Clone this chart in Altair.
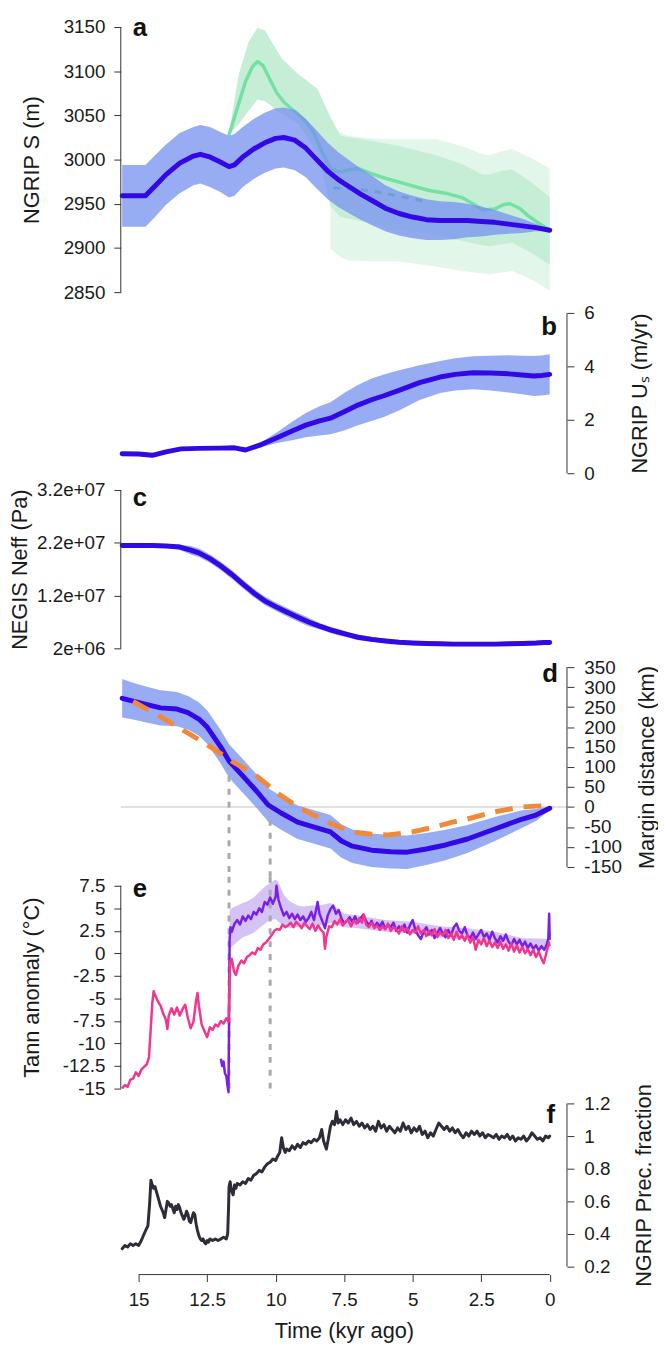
import altair as alt
import pandas as pd

FONT = "Liberation Sans"
TXT = "#1a1a1a"
AXC = "#333333"
W = 451
XDOM = [15.65, -0.63]

# ---------------- data (kyr ago, value) ----------------
# panel a : NGRIP surface elevation
A_T    = [15.6, 15.2, 14.75, 14.4, 14.0, 13.5, 13.0, 12.75, 12.4, 12.0, 11.7, 11.5, 11.2, 10.8, 10.4, 10.0, 9.7, 9.3, 8.9, 8.5, 8.1, 7.7, 7.3, 6.9, 6.5, 6.0, 5.5, 5.0, 4.5, 4.0, 3.5, 3.0, 2.5, 2.0, 1.5, 1.0, 0.5, 0.0]
A_MEAN = [2959, 2959, 2959, 2970, 2983, 2996, 3004, 3006, 3003, 2997, 2992, 2994, 3003, 3012, 3019, 3024, 3025, 3022, 3013, 3000, 2987, 2977, 2969, 2961, 2954, 2945, 2939, 2935, 2932, 2931, 2931, 2931, 2930, 2929, 2927, 2925, 2923, 2920]
A_LO   = [2924, 2924, 2924, 2935, 2949, 2962, 2971, 2973, 2969, 2963, 2957, 2959, 2969, 2978, 2985, 2990, 2991, 2988, 2980, 2967, 2955, 2946, 2939, 2932, 2926, 2919, 2914, 2911, 2909, 2909, 2910, 2912, 2913, 2915, 2916, 2917, 2919, 2919]
A_HI   = [2994, 2994, 2994, 3005, 3017, 3030, 3037, 3039, 3037, 3031, 3027, 3029, 3037, 3046, 3053, 3058, 3059, 3056, 3046, 3033, 3019, 3008, 2999, 2990, 2982, 2971, 2964, 2959, 2955, 2953, 2952, 2950, 2947, 2943, 2938, 2933, 2927, 2921]
G_T    = [11.7, 11.4, 11.1, 10.85, 10.66, 10.45, 10.2, 9.95, 9.67, 9.4, 9.2, 8.9, 8.6, 8.3, 8.0, 7.7, 7.4, 7.0, 6.5, 5.9, 5.2, 4.4, 3.8, 3.2, 2.8, 2.44, 2.0, 1.7, 1.45, 1.1, 0.77, 0.4, 0.0]
G_VAL  = [3028, 3058, 3088, 3105, 3111, 3106, 3090, 3075, 3064, 3057, 3052, 3043, 3030, 3008, 2990, 2986, 2988, 2990, 2984, 2978, 2972, 2965, 2962, 2957, 2950, 2943, 2944, 2949, 2950, 2945, 2936, 2928, 2920]
GM_T   = [11.71, 11.35, 10.99, 10.66, 10.39, 9.79, 9.19, 8.47, 8.0, 7.63, 6.5, 5.58, 4.14, 3.2, 2.45, 2.21, 1.8, 1.37, 0.7, 0.0]
GM_HI  = [3028, 3096, 3133, 3149, 3146, 3115, 3097, 3080, 3048, 3027, 3021, 3016, 3005, 2995, 2983, 2983, 2987, 2989, 2975, 2958]
GM_LO  = [3028, 3040, 3055, 3068, 3066, 3052, 3041, 3008, 2947, 2935, 2928, 2921, 2914, 2908, 2903, 2902, 2904, 2906, 2895, 2881]
GO_T   = [8.0, 7.63, 7.39, 6.5, 5.58, 4.8, 4.14, 3.2, 2.45, 2.21, 1.8, 1.37, 0.7, 0.0]
GO_HI  = [3034, 3030, 3027, 3024, 3023, 3023, 3023, 3015, 3006, 3005, 3009, 3012, 3002, 2990]
GO_LO  = [2899, 2890, 2886, 2885, 2885, 2882, 2879, 2874, 2871, 2870, 2872, 2874, 2865, 2852]
GD_T   = [7.9, 7.4, 6.9, 6.4, 5.9, 5.4, 4.9, 4.5]
GD_VAL = [2968, 2967, 2966, 2964, 2961, 2958, 2955, 2952]

# panel b : NGRIP surface velocity
B_T    = [15.6, 15.0, 14.5, 14.0, 13.45, 12.8, 12.0, 11.5, 11.1, 10.5, 9.95, 9.4, 8.9, 8.4, 8.0, 7.5, 7.0, 6.5, 6.05, 5.5, 4.75, 4.0, 3.45, 2.8, 2.15, 1.5, 1.0, 0.58, 0.3, 0.0]
B_MEAN = [0.73, 0.72, 0.67, 0.80, 0.91, 0.93, 0.94, 0.95, 0.87, 1.08, 1.33, 1.58, 1.80, 1.96, 2.06, 2.30, 2.55, 2.75, 2.90, 3.10, 3.39, 3.60, 3.70, 3.76, 3.75, 3.72, 3.68, 3.64, 3.66, 3.70]
B_LO   = [0.68, 0.67, 0.62, 0.75, 0.86, 0.88, 0.89, 0.90, 0.82, 0.98, 1.13, 1.23, 1.35, 1.41, 1.46, 1.60, 1.80, 1.95, 2.10, 2.35, 2.74, 3.00, 3.10, 3.14, 3.10, 3.02, 2.96, 2.89, 2.91, 2.95]
B_HI   = [0.78, 0.77, 0.72, 0.85, 0.96, 0.98, 0.99, 1.00, 0.92, 1.18, 1.53, 1.93, 2.25, 2.51, 2.66, 3.00, 3.30, 3.55, 3.70, 3.85, 4.04, 4.20, 4.30, 4.38, 4.40, 4.42, 4.40, 4.39, 4.41, 4.45]

# panel c : NEGIS effective pressure (Pa)
C_T    = [15.6, 15.0, 14.5, 14.0, 13.5, 13.1, 12.8, 12.4, 12.0, 11.6, 11.2, 10.8, 10.4, 10.0, 9.6, 9.19, 8.8, 8.4, 8.0, 7.74, 7.3, 7.0, 6.5, 6.0, 5.5, 5.0, 4.5, 4.0, 3.5, 3.0, 2.5, 2.0, 1.5, 1.0, 0.5, 0.2, 0.0]
C_MEAN = [2.15e7, 2.15e7, 2.15e7, 2.14e7, 2.12e7, 2.06e7, 2.01e7, 1.90e7, 1.76e7, 1.60e7, 1.42e7, 1.25e7, 1.10e7, 9.9e6, 8.9e6, 7.9e6, 7.0e6, 6.2e6, 5.5e6, 5.1e6, 4.5e6, 4.1e6, 3.7e6, 3.4e6, 3.15e6, 3.0e6, 2.9e6, 2.85e6, 2.8e6, 2.8e6, 2.8e6, 2.8e6, 2.85e6, 2.9e6, 3.0e6, 3.1e6, 3.1e6]
C_LO   = [2.115e7, 2.115e7, 2.115e7, 2.105e7, 2.07e7, 1.98e7, 1.93e7, 1.82e7, 1.68e7, 1.52e7, 1.34e7, 1.17e7, 1.02e7, 9.1e6, 8.1e6, 7.1e6, 6.2e6, 5.6e6, 4.9e6, 4.5e6, 4.0e6, 3.6e6, 3.2e6, 3.0e6, 2.75e6, 2.6e6, 2.5e6, 2.45e6, 2.4e6, 2.4e6, 2.4e6, 2.4e6, 2.45e6, 2.5e6, 2.6e6, 2.7e6, 2.7e6]
C_HI   = [2.185e7, 2.185e7, 2.185e7, 2.175e7, 2.17e7, 2.14e7, 2.09e7, 1.98e7, 1.84e7, 1.68e7, 1.50e7, 1.33e7, 1.18e7, 1.07e7, 9.7e6, 8.7e6, 7.8e6, 6.8e6, 6.1e6, 5.7e6, 5.0e6, 4.6e6, 4.2e6, 3.8e6, 3.55e6, 3.4e6, 3.3e6, 3.25e6, 3.2e6, 3.2e6, 3.2e6, 3.2e6, 3.25e6, 3.3e6, 3.4e6, 3.5e6, 3.5e6]

# panel d : margin distance (km)
D_T    = [15.6, 15.2, 14.8, 14.2, 13.6, 13.2, 12.8, 12.5, 12.0, 11.7, 11.2, 10.7, 10.27, 9.8, 9.2, 8.5, 8.0, 7.6, 7.2, 6.5, 5.8, 5.2, 4.5, 3.8, 3.0, 2.0, 1.0, 0.5, 0.0]
D_MEAN = [272, 265, 258, 248, 245, 236, 220, 200, 150, 115, 78, 40, 5, -15, -38, -52, -62, -85, -98, -108, -112, -113, -105, -95, -80, -55, -30, -20, -3]
D_LO   = [224, 219, 213, 204, 202, 194, 178, 158, 108, 73, 36, -2, -37, -57, -80, -94, -104, -127, -140, -150, -154, -155, -145, -133, -115, -85, -52, -35, -8]
D_HI   = [320, 311, 303, 292, 288, 278, 262, 242, 192, 157, 120, 82, 47, 27, 4, -10, -20, -43, -56, -66, -70, -71, -65, -57, -45, -25, -8, -5, 2]
OR_T   = [15.2, 14.1, 13.3, 12.5, 11.6, 10.7, 9.9, 9.1, 8.0, 7.24, 6.5, 5.9, 5.0, 4.2, 3.55, 3.0, 2.0, 1.05, 0.0]
OR_VAL = [264, 222, 189, 156, 115, 78, 33, -4, -41, -62, -68, -70, -62, -50, -38, -30, -12, 0, 4]

# vertical dashed markers (kyr) and their starting value in panel d
VL_T = [11.7, 10.2]
VL_D = [110, 0]

# panel e : annual temperature anomaly
TANN_PINK = [(15.6,-15.0),(15.5,-14.6),(15.4,-14.8),(15.3,-14.0),(15.2,-13.9),(15.1,-13.2),(15.0,-13.6),(14.9,-12.9),(14.8,-12.6),(14.7,-12.3),
        (14.62,-11.5),(14.55,-8.0),(14.5,-5.5),(14.45,-4.2),(14.4,-4.6),(14.3,-5.3),(14.2,-5.8),(14.1,-6.7),(14.0,-7.4),(13.95,-8.4),(13.9,-6.9),
        (13.8,-6.1),(13.7,-6.8),(13.6,-6.0),(13.5,-6.9),(13.4,-6.2),(13.3,-5.7),(13.2,-7.2),(13.1,-8.3),(13.0,-7.6),
        (12.9,-5.2),(12.85,-4.4),(12.8,-5.8),(12.7,-7.9),(12.6,-8.6),(12.5,-9.3),(12.4,-8.2),(12.3,-8.5),(12.2,-7.9),(12.1,-8.1),(12.0,-7.5),(11.9,-7.8),(11.8,-7.2),(11.72,-7.6),
        (11.66,-1.0),(11.6,-0.6),(11.52,-2.0),(11.45,-2.4),(11.35,-1.3),(11.25,-0.8),(11.15,-1.1),(11.05,-0.4),(10.95,-0.2),(10.85,0.1),(10.75,-0.1),(10.65,0.6),(10.55,0.4),(10.45,1.0),(10.35,1.2),(10.25,1.6),(10.15,2.0),(10.05,2.5),
        (9.95,2.7),(9.85,2.6),(9.75,3.2),(9.65,2.9),(9.55,3.1),(9.45,3.4),(9.35,2.9),(9.25,3.5),(9.15,3.2),(9.05,2.8),(8.95,3.4),(8.85,3.0),(8.75,2.7),(8.65,3.3),(8.55,2.5),(8.45,3.1),(8.35,2.6),(8.25,2.3),
        (8.2,0.5),(8.15,1.8),(8.05,3.0),
        (7.95,2.9),(7.85,3.6),(7.75,3.2),(7.65,3.8),(7.55,3.1),(7.45,3.5),(7.35,3.7),(7.25,3.0),(7.15,3.6),(7.05,3.3),(6.95,3.9),(6.85,3.4),(6.78,4.3),(6.7,3.2),
        (6.6,2.9),(6.5,3.4),(6.4,2.8),(6.3,3.1),(6.2,2.6),(6.1,3.0),(6.0,2.7),(5.9,3.3),(5.8,2.5),(5.7,2.9),(5.6,2.7),(5.5,2.2),(5.4,3.0),(5.3,2.4),(5.2,2.8),(5.1,2.1),
        (5.0,2.6),(4.9,2.3),(4.8,3.0),(4.7,2.2),(4.6,2.6),(4.5,1.9),(4.4,2.5),(4.3,2.0),(4.2,2.7),(4.1,1.8),(4.0,2.3),(3.9,2.0),(3.8,2.6),(3.7,1.7),(3.6,2.2),(3.5,1.5),
        (3.4,2.4),(3.3,1.6),(3.2,2.0),(3.1,1.4),(3.0,2.1),(2.9,1.2),(2.8,1.8),(2.7,0.4),(2.6,1.5),(2.5,1.0),(2.4,1.7),(2.3,0.8),(2.2,1.4),(2.1,0.7),(2.0,1.2),(1.9,0.6),
        (1.8,1.3),(1.7,0.5),(1.6,1.0),(1.5,0.3),(1.4,1.1),(1.3,0.2),(1.2,0.9),(1.1,0.1),(1.0,0.7),(0.9,0.0),(0.8,0.5),(0.7,-0.2),(0.6,0.4),(0.5,-0.4),(0.4,0.2),(0.3,-0.6),
        (0.22,-1.1),(0.15,-0.3),(0.08,0.6),(0.03,1.2),(0.0,0.8)]
TANN_PURPLE = [(12.0,-11.7),(11.95,-12.5),(11.9,-12.0),(11.85,-13.3),(11.8,-13.6),(11.76,-14.6),(11.72,-15.4),(11.7,-8.0),(11.68,1.5),(11.65,2.9),
          (11.6,2.4),(11.5,3.3),(11.4,3.7),(11.3,3.2),(11.2,4.1),(11.1,3.6),(11.0,4.2),(10.9,3.8),(10.8,4.6),(10.7,4.3),(10.6,5.0),(10.5,4.6),
          (10.4,5.7),(10.3,5.4),(10.2,6.2),(10.1,5.5),(10.0,6.3),(9.97,7.5),(9.9,6.0),(9.8,5.0),(9.7,4.2),(9.6,4.6),(9.5,3.9),(9.4,4.4),(9.3,3.8),
          (9.2,4.3),(9.1,3.7),(9.0,4.1),(8.9,3.5),(8.8,3.9),(8.7,4.6),(8.6,3.7),(8.5,5.2),(8.47,5.7),(8.4,4.4),(8.3,3.6),(8.2,2.8),(8.1,4.2),
          (8.0,4.9),(7.9,5.3),(7.8,4.4),(7.7,4.8),(7.6,3.9),(7.5,3.3),(7.4,3.6),(7.3,4.0),(7.2,3.5),(7.1,4.1),(7.0,3.4),(6.9,3.9),(6.8,4.3),
          (6.7,3.6),(6.6,3.1),(6.5,3.6),(6.4,2.9),(6.3,3.4),(6.2,3.0),(6.1,3.5),(6.0,2.7),(5.9,3.2),(5.8,2.9),(5.7,3.4),(5.6,2.5),(5.5,3.0),
          (5.4,2.6),(5.3,3.2),(5.2,2.3),(5.1,3.1),(5.0,3.7),(4.9,2.6),(4.8,2.0),(4.7,1.6),(4.6,2.4),(4.5,2.9),(4.4,2.1),(4.3,2.6),(4.2,1.7),
          (4.1,2.3),(4.0,2.8),(3.9,2.2),(3.8,1.8),(3.7,2.6),(3.6,2.0),(3.5,2.9),(3.4,3.3),(3.3,2.5),(3.2,2.2),(3.1,2.9),(3.0,2.0),(2.9,1.7),
          (2.8,2.3),(2.7,1.6),(2.6,2.1),(2.5,2.6),(2.4,1.8),(2.3,2.2),(2.2,1.5),(2.1,2.4),(2.0,1.7),(1.9,1.2),(1.8,1.9),(1.7,1.4),(1.6,2.1),
          (1.5,1.3),(1.4,0.9),(1.3,1.6),(1.2,1.0),(1.1,1.5),(1.0,0.8),(0.9,1.3),(0.8,0.6),(0.7,1.1),(0.6,0.5),(0.5,0.9),(0.4,0.3),(0.3,0.8),
          (0.2,0.4),(0.12,0.9),(0.05,1.6),(0.02,4.4),(0.0,1.5)]
TANN_PURPLE_BAND = [(11.68,0.5,4.8),(11.6,0.7,5.0),(11.4,1.3,5.3),(11.2,1.8,5.6),(11.0,2.0,5.8),(10.8,2.3,6.2),(10.6,2.8,6.8),(10.4,3.3,7.4),
               (10.2,3.7,7.8),(10.0,3.8,8.2),(9.9,3.5,7.9),(9.7,3.0,6.5),(9.5,2.8,5.8),(9.2,2.9,5.3),(9.0,2.9,5.2),(8.7,3.1,5.3),
               (8.4,3.1,5.3),(8.0,3.4,5.6),(7.5,2.9,4.4),(7.0,2.8,4.2),(6.0,2.4,3.7),(5.0,2.2,3.5),(4.0,1.8,3.0),(3.0,1.5,2.8),
               (2.0,1.1,2.4),(1.0,0.5,1.7),(0.0,0.4,1.6)]

# panel f : NGRIP precipitation fraction
PREC = [(15.6,0.31),(15.5,0.33),(15.4,0.32),(15.3,0.34),(15.2,0.33),(15.1,0.34),(15.0,0.33),(14.9,0.36),(14.8,0.40),(14.72,0.43),(14.66,0.45),
        (14.6,0.58),(14.55,0.73),(14.5,0.70),(14.45,0.68),(14.4,0.69),(14.35,0.66),(14.3,0.63),(14.25,0.60),(14.2,0.57),(14.1,0.53),(14.05,0.50),
        (14.0,0.55),(13.95,0.60),(13.9,0.59),(13.85,0.57),(13.8,0.58),(13.7,0.53),(13.65,0.57),(13.6,0.55),(13.55,0.58),(13.5,0.56),(13.45,0.53),
        (13.4,0.51),(13.35,0.49),(13.3,0.51),(13.25,0.54),(13.2,0.52),(13.15,0.48),(13.1,0.47),(13.05,0.50),(13.0,0.53),(12.95,0.52),(12.9,0.46),
        (12.85,0.42),(12.8,0.39),(12.75,0.37),(12.7,0.36),(12.65,0.37),(12.6,0.35),(12.55,0.34),(12.5,0.36),(12.45,0.35),(12.4,0.37),(12.3,0.36),
        (12.2,0.37),(12.1,0.36),(12.0,0.37),(11.9,0.38),(11.8,0.37),(11.75,0.40),(11.72,0.55),(11.7,0.69),(11.66,0.72),(11.62,0.67),(11.55,0.64),
        (11.5,0.70),(11.45,0.68),(11.4,0.71),(11.3,0.70),(11.2,0.72),(11.1,0.71),(11.0,0.74),(10.9,0.73),(10.8,0.76),(10.7,0.77),(10.6,0.79),
        (10.5,0.78),(10.4,0.81),(10.3,0.83),(10.2,0.84),(10.1,0.86),(10.0,0.85),(9.92,0.88),(9.85,0.90),(9.78,0.99),(9.72,0.93),(9.65,0.90),
        (9.6,0.92),(9.5,0.91),(9.4,0.94),(9.3,0.92),(9.2,0.95),(9.1,0.93),(9.0,0.96),(8.9,0.95),(8.8,0.97),(8.7,0.96),(8.6,0.98),(8.5,0.97),
        (8.4,0.99),(8.32,1.04),(8.25,0.97),(8.15,0.92),(8.08,0.98),(8.0,1.06),(7.93,1.09),(7.85,1.07),(7.78,1.15),(7.72,1.08),(7.65,1.10),
        (7.55,1.07),(7.45,1.10),(7.35,1.08),(7.25,1.11),(7.15,1.07),(7.05,1.09),(6.95,1.06),(6.85,1.08),(6.75,1.05),(6.65,1.07),(6.55,1.04),
        (6.45,1.06),(6.35,1.03),(6.25,1.09),(6.15,1.05),(6.05,1.07),(5.95,1.03),(5.85,1.06),(5.75,1.04),(5.65,1.02),(5.55,1.05),(5.45,1.03),
        (5.35,1.08),(5.25,1.04),(5.15,1.06),(5.05,1.02),(4.95,1.05),(4.85,1.03),(4.75,1.06),(4.65,1.01),(4.55,1.03),(4.45,0.99),(4.35,1.02),
        (4.25,1.00),(4.15,1.04),(4.05,1.08),(3.95,1.06),(3.85,1.04),(3.75,1.06),(3.65,1.03),(3.55,1.05),(3.45,1.02),(3.35,1.04),(3.25,1.01),
        (3.15,0.99),(3.05,1.02),(2.95,1.00),(2.85,1.03),(2.75,1.01),(2.65,1.03),(2.55,1.00),(2.45,1.02),(2.35,0.99),(2.25,1.01),(2.15,1.00),
        (2.05,0.99),(1.95,1.01),(1.85,0.98),(1.75,1.00),(1.65,0.99),(1.55,1.01),(1.45,0.98),(1.35,1.00),(1.25,0.97),(1.15,0.99),(1.05,0.98),
        (0.95,1.00),(0.85,0.97),(0.75,0.99),(0.65,1.02),(0.55,1.00),(0.45,0.98),(0.35,0.99),(0.25,0.97),(0.15,1.00),(0.05,0.99),(0.0,1.00)]

# tick values
X_TICKS = [15, 12.5, 10, 7.5, 5, 2.5, 0]
A_TICKS = [2850, 2900, 2950, 3000, 3050, 3100, 3150]
B_TICKS = [0, 2, 4, 6]
C_TICKS = [2e6, 1.2e7, 2.2e7, 3.2e7]
D_TICKS = [-150, -100, -50, 0, 50, 100, 150, 200, 250, 300, 350]
E_TICKS = [-15, -12.5, -10, -7.5, -5, -2.5, 0, 2.5, 5, 7.5]
F_TICKS = [0.2, 0.4, 0.6, 0.8, 1, 1.2]
LETTERS = ["a", "b", "c", "d", "e", "f"]

# colours
BLUE = "#3308e6"
BLUE_BAND = "#7590f0"
GREEN = "#74e0a4"
GREEN_MID = "#c6eed6"
GREEN_OUT = "#e3f6ea"
ORANGE = "#f08a3a"
PINK_C = "#f2368e"
PURP_C = "#7a1fe6"
PURP_BAND = "#d2bcf4"
DARK = "#2f2c38"
VGRAY = "#aaaaaa"

# ---------------- layout helpers ----------------
# (page top px, page bottom px, (v1, px1), (v2, px2))
LAYOUT = {
    "a": (8, 295, (3150, 17), (2850, 285)),
    "b": (295, 476, (6, 306), (0, 468)),
    "c": (476, 655, (3.2e7, 485), (2e6, 645)),
    "d": (655, 876, (350, 664), (-150, 866)),
    "e": (876, 1097, (7.5, 885), (-15, 1090)),
    "f": (1097, 1278, (1.2, 1105), (0.2, 1270)),
}


def geom(key):
    top, bot, (v1, p1), (v2, p2) = LAYOUT[key]
    k = (p2 - p1) / (v1 - v2)
    hi = v1 + (p1 - top) / k
    lo = v2 - (bot - p2) / k
    H = bot - top
    mid_px = (hi - (v1 + v2) / 2) * k
    return [lo, hi], H, mid_px


XS = alt.Scale(domain=XDOM, nice=False, zero=False)


def X(axis=None):
    return alt.X("t:Q", scale=XS, axis=axis)


def ysc(d):
    return alt.Scale(domain=d, nice=False, zero=False)


def yaxis(orient, values, title, tpad, tY, expr="toString(datum.value)"):
    kw = dict(orient=orient, values=values, title=title, labelExpr=expr, domain=False,
              ticks=True, tickSize=7, tickColor=AXC, tickWidth=1,
              labelFont=FONT, labelFontSize=19, labelColor=TXT, labelOverlap=False,
              titleFont=FONT, titleFontSize=22, titleFontWeight="normal", titleColor=TXT,
              titlePadding=tpad, titleY=tY, grid=False)
    if orient == "left":
        kw.update(labelPadding=9)
    else:
        kw.update(labelPadding=10, titleAngle=270, titleBaseline="top")
    return alt.Axis(**kw)


ONE = pd.DataFrame({"k": [0]})


def axis_line(ticks, xpos, ax):
    return alt.Chart(ONE).mark_rule(color=AXC, strokeWidth=1).encode(
        x=alt.value(xpos), y=alt.YDatum(min(ticks), axis=ax), y2=alt.Y2Datum(max(ticks)))


def letter(ch, xpos, ypos, align):
    return alt.Chart(pd.DataFrame({"lab": [ch]})).mark_text(
        font=FONT, fontSize=26, fontWeight="bold", color="#111111", align=align, baseline="middle"
    ).encode(x=alt.value(xpos), y=alt.value(ypos), text="lab:N")


def band(df, dom, ax, color=BLUE_BAND, opacity=0.75, xaxis=None):
    return alt.Chart(df).mark_area(color=color, opacity=opacity).encode(
        x=X(xaxis), y=alt.Y("hi:Q", scale=ysc(dom), axis=ax), y2="lo:Q")


def line(df, dom, ax, color, width, dash=None, opacity=1.0, xaxis=None, cap="round"):
    kw = dict(color=color, strokeWidth=width, opacity=opacity, strokeCap=cap, strokeJoin="round")
    if dash:
        kw["strokeDash"] = dash
    return alt.Chart(df).mark_line(**kw).encode(
        x=X(xaxis), y=alt.Y("v:Q", scale=ysc(dom), axis=ax))


# ---------------- panel a ----------------
domA, HA, midA = geom("a")
axA = yaxis("left", A_TICKS, "NGRIP S (m)", 20, midA)
dfA = pd.DataFrame({"t": A_T, "v": A_MEAN, "lo": A_LO, "hi": A_HI})
dfG = pd.DataFrame({"t": G_T, "v": G_VAL})
dfGM = pd.DataFrame({"t": GM_T, "lo": GM_LO, "hi": GM_HI})
dfGO = pd.DataFrame({"t": GO_T, "lo": GO_LO, "hi": GO_HI})
dfGD = pd.DataFrame({"t": GD_T, "v": GD_VAL})
panelA = alt.layer(
    band(dfGO, domA, axA, color=GREEN_OUT, opacity=1.0),
    band(dfGM, domA, axA, color=GREEN_MID, opacity=1.0),
    line(dfG, domA, axA, GREEN, 3.5),
    line(dfGD, domA, axA, "#5fc08f", 3, dash=[7, 7], cap="butt"),
    band(dfA, domA, axA),
    line(dfA, domA, axA, BLUE, 5),
    axis_line(A_TICKS, 0, axA),
    letter(LETTERS[0], 12, 10, "left"),
).properties(width=W, height=HA)

# ---------------- panel b ----------------
domB, HB, midB = geom("b")
axB = yaxis("right", B_TICKS, "NGRIP U\u209b (m/yr)", 36, midB)
dfB = pd.DataFrame({"t": B_T, "v": B_MEAN, "lo": B_LO, "hi": B_HI})
panelB = alt.layer(
    band(dfB, domB, axB),
    line(dfB, domB, axB, BLUE, 5),
    axis_line(B_TICKS, W, axB),
    letter(LETTERS[1], W - 10, 25, "right"),
).properties(width=W, height=HB)

# ---------------- panel c ----------------
domC, HC, midC = geom("c")
axC = yaxis("left", C_TICKS, "NEGIS Neff (Pa)", 5, midC,
            expr="replace(format(datum.value, '.2~e'), 'e+', 'e+0')")
dfC = pd.DataFrame({"t": C_T, "v": C_MEAN, "lo": C_LO, "hi": C_HI})
panelC = alt.layer(
    band(dfC, domC, axC),
    line(dfC, domC, axC, BLUE, 5),
    axis_line(C_TICKS, 0, axC),
    letter(LETTERS[2], 12, 17, "left"),
).properties(width=W, height=HC)

# ---------------- panel d ----------------
domD, HD, midD = geom("d")
axD = yaxis("right", D_TICKS, "Margin distance (km)", 15, midD)
dfD = pd.DataFrame({"t": D_T, "v": D_MEAN, "lo": D_LO, "hi": D_HI})
dfO = pd.DataFrame({"t": OR_T, "v": OR_VAL})
dfVL = pd.DataFrame({"t": VL_T, "v": VL_D})
zero = alt.Chart(ONE).mark_rule(color="#c4c4c4", strokeWidth=1.2).encode(y=alt.YDatum(0, axis=axD))
vl_d = alt.Chart(dfVL).mark_rule(color=VGRAY, strokeWidth=3, strokeDash=[6, 7]).encode(
    x=X(), y=alt.Y("v:Q", scale=ysc(domD), axis=axD), y2=alt.value(HD))
panelD = alt.layer(
    zero,
    band(dfD, domD, axD),
    vl_d,
    line(dfD, domD, axD, BLUE, 5),
    line(dfO, domD, axD, ORANGE, 5, dash=[18, 11], cap="butt"),
    axis_line(D_TICKS, W, axD),
    letter(LETTERS[3], W - 9, 16, "right"),
).properties(width=W, height=HD)

# ---------------- panel e ----------------
domE, HE, midE = geom("e")
axE = yaxis("left", E_TICKS, "Tann anomaly (\u00b0C)", 19, midE)
dfPk = pd.DataFrame(TANN_PINK, columns=["t", "v"])
dfPu = pd.DataFrame(TANN_PURPLE, columns=["t", "v"])
dfPB = pd.DataFrame(TANN_PURPLE_BAND, columns=["t", "lo", "hi"])
vl_e = alt.Chart(dfVL).mark_rule(color=VGRAY, strokeWidth=3, strokeDash=[6, 7]).encode(x=X())
panelE = alt.layer(
    band(dfPB, domE, axE, color=PURP_BAND, opacity=0.9),
    vl_e,
    line(dfPu, domE, axE, PURP_C, 2.5, cap="butt"),
    line(dfPk, domE, axE, PINK_C, 2.5, cap="butt"),
    axis_line(E_TICKS, 0, axE),
    letter(LETTERS[4], 12, 12, "left"),
).properties(width=W, height=HE)

# ---------------- panel f ----------------
domF, HF, midF = geom("f")
axF = yaxis("right", F_TICKS, "NGRIP Prec. fraction", 24, midF)
xaxis = alt.Axis(orient="bottom", values=X_TICKS, labelExpr="toString(datum.value)", domain=False,
                 ticks=True, tickSize=7, tickColor=AXC, tickWidth=1, labelPadding=9,
                 labelFont=FONT, labelFontSize=19, labelColor=TXT, labelOverlap=False,
                 title="Time (kyr ago)", titleFont=FONT, titleFontSize=22, titleFontWeight="normal",
                 titleColor=TXT, titlePadding=12, grid=False)
dfF = pd.DataFrame(PREC, columns=["t", "v"])
vl_f = alt.Chart(dfVL).mark_rule(color=VGRAY, strokeWidth=3, strokeDash=[6, 7]).encode(
    x=X(xaxis), y=alt.value(0), y2=alt.Y2Datum(min(F_TICKS)))
xline = alt.Chart(ONE).mark_rule(color=AXC, strokeWidth=1).encode(
    x=alt.XDatum(max(X_TICKS), axis=xaxis), x2=alt.X2Datum(min(X_TICKS)), y=alt.value(HF))
panelF = alt.layer(
    vl_f,
    line(dfF, domF, axF, DARK, 3, xaxis=xaxis),
    axis_line(F_TICKS, W, axF),
    xline,
    letter(LETTERS[5], W - 12, 20, "right"),
).properties(width=W, height=HF)

chart = alt.vconcat(panelA, panelB, panelC, panelD, panelE, panelF, spacing=0, bounds="flush").resolve_scale(
    x="shared", y="independent"
).properties(
    padding={"left": 0, "top": 0, "right": 0, "bottom": 0}, background="white"
).configure(font=FONT, view=alt.ViewConfig(stroke=None))

chart.save("out.html", embed_options={"renderer": "svg", "actions": False})
